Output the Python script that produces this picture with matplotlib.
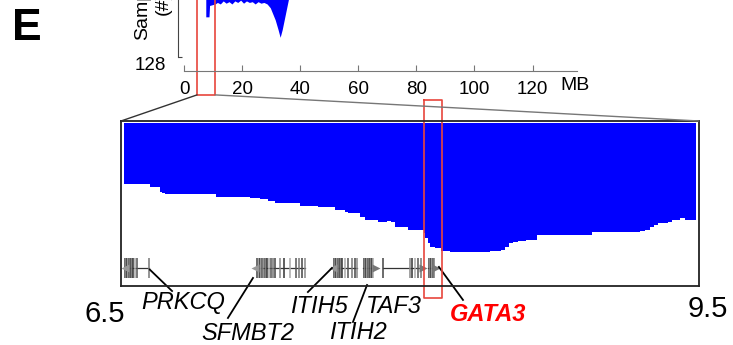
import matplotlib
matplotlib.use("Agg")
import matplotlib.pyplot as plt
from matplotlib.patches import ConnectionPatch

plt.rcParams['font.family'] = ['Liberation Sans', 'DejaVu Sans']

# whole-chromosome profile (MB, number of samples)
chrom_pos = [7.5, 7.6, 8.6, 8.8, 10.7, 11.5, 12.5, 13.5, 14.5, 15.5, 16.5, 17.5, 18.5,
             19.5, 20.5, 21.5, 22.5, 23.5, 24.5, 25.5, 26.5, 27.5, 28.6, 29.7, 31.4,
             32.4, 33.1, 33.8, 34.5, 35.2, 35.9, 36.5, 37.0]
chrom_samples = [75, 75, 75, 60, 58, 56, 58, 54, 57, 55, 58, 54, 56,
                 53, 57, 54, 56, 55, 58, 55, 57, 56, 58, 63, 79,
                 92, 102, 92, 79, 66, 53, 40, 25]

# zoomed region 6.5-9.5 MB (step profile)
zoom_pos = [6.516, 6.650, 6.702, 6.713, 6.728, 6.993, 7.170, 7.221, 7.263, 7.299,
            7.429, 7.522, 7.611, 7.662, 7.678, 7.740, 7.766, 7.834, 7.880, 7.900,
            7.922, 7.990, 8.073, 8.080, 8.092, 8.104, 8.130, 8.160, 8.208, 8.415,
            8.470, 8.493, 8.515, 8.535, 8.560, 8.600, 8.659, 8.944, 9.194, 9.220,
            9.245, 9.265, 9.287, 9.339, 9.360, 9.401, 9.427, 9.484]
zoom_samples = [49, 51, 55, 56, 57, 59, 60, 61, 62, 64,
                66, 67, 69, 71, 72, 75, 77, 79, 78, 79,
                83, 85, 88, 92, 96, 99, 100, 102, 103, 102,
                101, 99, 96, 95, 94, 93, 89, 87, 86, 85,
                83, 81, 80, 79, 77, 76, 77, 77]

# genes: start, end, strand, exon positions
genes = {
    'PRKCQ': (6.521, 6.645, '-', [6.521, 6.526, 6.531, 6.536, 6.542, 6.547, 6.552, 6.557, 6.562, 6.573, 6.583, 6.645]),
    'SFMBT2': (7.195, 7.455, '-', [7.206, 7.216, 7.221, 7.227, 7.232, 7.237, 7.247, 7.252, 7.258, 7.268, 7.278,
                                   7.289, 7.299, 7.325, 7.346, 7.377, 7.408, 7.424, 7.439, 7.455]),
    'ITIH5': (7.600, 7.725, '-', [7.605, 7.610, 7.615, 7.620, 7.625, 7.630, 7.636, 7.641, 7.646,
                                  7.662, 7.677, 7.698, 7.713, 7.725]),
    'ITIH2': (7.756, 7.824, '+', [7.760, 7.765, 7.770, 7.775, 7.780, 7.785, 7.790, 7.796, 7.801, 7.806]),
    'TAF3': (7.860, 8.070, '+', [7.860, 7.999, 8.010, 8.025, 8.040, 8.055]),
    'GATA3': (8.093, 8.135, '+', [8.097, 8.102, 8.107, 8.112, 8.117, 8.122]),
}
# label text position and pointer line (x0, y0, x1, y1)
labels = {
    'PRKCQ': ((6.822, 143.5), (6.650, 117, 6.765, 134)),
    'SFMBT2': ((7.159, 167.5), (7.185, 123.6, 7.055, 155.5)),
    'ITIH5': ((7.528, 146), (7.595, 115.6, 7.470, 134.8)),
    'ITIH2': ((7.730, 166.7), (7.777, 129.2, 7.704, 158.7)),
    'TAF3': ((7.917, 146), None),
    'GATA3': ((8.405, 153), (8.150, 114.8, 8.275, 141.1)),
}
chrom_ticks = [0, 20, 40, 60, 80, 100, 120]
zoom_region = (4.5, 10.7)
gata3_box = (8.073, 8.166)

W, H = 733, 345
fig = plt.figure(figsize=(W / 100, H / 100), dpi=100)

# ---- top panel: whole chromosome (top is cut by the figure edge, as in the source)
ax_top = fig.add_axes([184 / W, (H - 57) / H, 393 / W, 97 / H])
ax_top.fill_between(chrom_pos, 0, chrom_samples, color='#0000ff', lw=0)
ax_top.set_xlim(0, 135.3)
ax_top.set_ylim(128, 0)
for s in ['top', 'right']:
    ax_top.spines[s].set_visible(False)
ax_top.spines['left'].set_position(('outward', 4))
ax_top.spines['bottom'].set_position(('outward', 10))
ax_top.spines['left'].set_color('#444444')
ax_top.spines['bottom'].set_color('#777777')
ax_top.set_xticks(chrom_ticks)
ax_top.set_yticks([128])
ax_top.set_yticklabels(['128'], va='top')
ax_top.tick_params(axis='x', direction='in', length=4, color='#777777', labelsize=13.5, pad=7)
ax_top.tick_params(axis='y', direction='in', length=3, color='#444444', labelsize=13.5, pad=9)
fig.text(575 / W, (H - 86) / H, 'MB', fontsize=14, ha='center', va='center')
fig.text(143 / W, (H - 2) / H, 'Samples', rotation=90, fontsize=14, ha='center', va='center')
fig.text(163 / W, (H - 3) / H, '(#)', rotation=90, fontsize=14, ha='center', va='center')
ax_top.plot([zoom_region[0], zoom_region[0], zoom_region[1], zoom_region[1]],
            [-60, 178, 178, -60], color='#e8453c', lw=1.2, clip_on=False)

fig.text(27 / W, (H - 28) / H, 'E', fontsize=32, fontweight='bold', ha='center', va='center')

# ---- bottom panel: zoomed region
ax = fig.add_axes([121 / W, (H - 286) / H, 578 / W, 165 / H])
ax.fill_between(zoom_pos, 0, zoom_samples, step='post', color='#0000ff', lw=0)
ax.set_xlim(6.5, 9.5)
ax.set_ylim(130, -1.6)
ax.set_xticks([])
ax.set_yticks([])
for s in ax.spines.values():
    s.set_linewidth(1.3)
    s.set_color('#222222')

greys = ['#444444', '#888888', '#333333', '#aaaaaa', '#555555', '#777777']
for name, (start, end, strand, exons) in genes.items():
    ax.plot([start, end], [115.6, 115.6], color='#333333', lw=0.9)
    ax.vlines(exons, 108, 124, colors=[greys[i % len(greys)] for i in range(len(exons))], lw=1.1)
    if strand == '+':
        ax.plot(end, 115.6, marker='>', ms=6, color='#777777', mec='none')
    else:
        ax.plot(start, 115.6, marker='<', ms=6, color='#999999', mec='none')

for name, ((tx, ty), line) in labels.items():
    is_gata = name == 'GATA3'
    ax.text(tx, ty, name, fontsize=17, style='italic', ha='center', va='center',
            color='#ff0000' if is_gata else 'black', fontweight='bold' if is_gata else 'normal',
            clip_on=False)
    if line is not None:
        ax.plot([line[0], line[2]], [line[1], line[3]], color='black', lw=1.3, clip_on=False)

ax.plot([gata3_box[0], gata3_box[0], gata3_box[1], gata3_box[1], gata3_box[0]],
        [-18.3, 139.6, 139.6, -18.3, -18.3], color='#e8453c', lw=1.2, clip_on=False)

ax.text(6.417, 152.3, '6.5', fontsize=21, ha='center', va='center', clip_on=False)
ax.text(9.547, 148.3, '9.5', fontsize=21, ha='center', va='center', clip_on=False)

# connector lines from zoom window to the lower panel
for xa, xb, c in [(zoom_region[0], 6.5, '#333333'), (zoom_region[1], 9.5, '#777777')]:
    con = ConnectionPatch(xyA=(xa, 178), coordsA=ax_top.transData,
                          xyB=(xb, -1.6), coordsB=ax.transData, color=c, lw=1)
    fig.add_artist(con)

fig.savefig('out.png', dpi=100)
